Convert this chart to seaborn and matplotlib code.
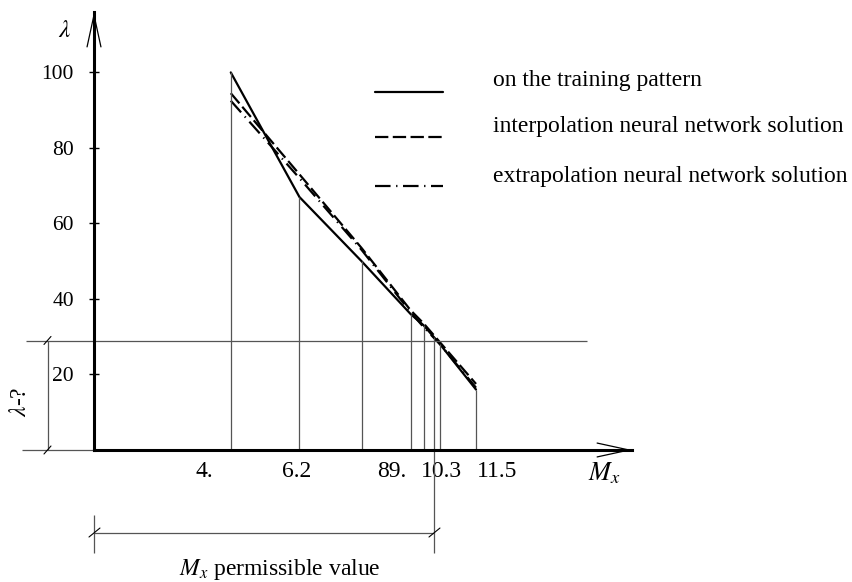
import numpy as np
import pandas as pd
import matplotlib
matplotlib.use('Agg')
import matplotlib.pyplot as plt
import seaborn as sns

mx = [4.0, 6.1, 8.0, 9.5, 9.9, 10.4, 11.5]
lam_training = [100, 67, 50, 36, 33, 28, 16]
lam_interp = [94.5, 73, 53.5, 37, 33.5, 28.5, 17.5]
lam_extrap = [92.5, 72, 53, 36.5, 32.5, 28, 16.5]
series_names = ['on the training pattern',
                'interpolation neural network solution',
                'extrapolation neural network solution']

y_ticks = [20, 40, 60, 80, 100]
x_tick_labels = ['4.', '6.2', '89.', '10.3', '11.5']
x_tick_pos = [3.18, 6.02, 8.93, 10.43, 12.14]

lam_permissible = 29
mx_permissible = 10.2

sns.set_style('white')
plt.rcParams['font.family'] = ['Liberation Serif', 'DejaVu Serif']
plt.rcParams['mathtext.fontset'] = 'stix'
plt.rcParams['text.color'] = 'black'
plt.rcParams['xtick.color'] = 'black'
plt.rcParams['ytick.color'] = 'black'

W, H = 853, 582
fig = plt.figure(figsize=(W / 100, H / 100), dpi=100)
ax = fig.add_axes([94 / W, (H - 450) / H, (632 - 94) / W, (450 - 12) / H])
ax.set_xlim(-0.183, 16.27)
ax.set_ylim(0, 116.0)


# helpers to place decorations using pixel positions of the scheme
def dx(px):
    return (px - 100) / 32.7


def dy(py):
    return (450 - py) / 3.775


FS = 17
grey = '#555555'

df = pd.DataFrame({
    'Mx': mx * 3,
    'lam': lam_training + lam_interp + lam_extrap,
    'series': [n for n in series_names for _ in mx],
})
dash_styles = {series_names[0]: '', series_names[1]: (6, 2), series_names[2]: (7, 2.5, 0.6, 2.5)}
sns.lineplot(data=df, x='Mx', y='lam', style='series', dashes=dash_styles,
             color='black', lw=1.6, legend=False, ax=ax, sort=False, estimator=None)

# drop lines from the training points
ax.vlines(mx, 0, lam_training, colors=grey, lw=0.9)
lam_at_perm = np.interp(mx_permissible, mx, lam_training)
ax.vlines(mx_permissible, dy(553), lam_at_perm, colors=grey, lw=0.9, clip_on=False)

# permissible lambda level
ax.hlines(lam_permissible, dx(26), dx(587), colors=grey, lw=0.9, clip_on=False)

# lambda-? dimension
ax.vlines(dx(48), 0, lam_permissible, colors=grey, lw=0.9, clip_on=False)
ax.hlines(0, dx(22), dx(94), colors=grey, lw=0.9, clip_on=False)
for py in [340.5, 450]:
    ax.plot([dx(44), dx(51)], [dy(py + 4), dy(py - 4)], color='black', lw=0.8, clip_on=False)
ax.text(dx(21), dy(402), r'$\lambda$-?', rotation=90, ha='center', va='center', fontsize=FS)

# M_x permissible dimension
ax.hlines(dy(533), dx(94), dx(434), colors=grey, lw=0.9, clip_on=False)
ax.vlines(dx(94), dy(553), dy(515), colors=grey, lw=0.9, clip_on=False)
for px in [94, 434]:
    ax.plot([dx(px - 5), dx(px + 6)], [dy(537), dy(528)], color='black', lw=0.8, clip_on=False)
ax.text(dx(280), dy(569), r'$M_x$ permissible value', ha='center', va='center', fontsize=FS)

# axes with arrows
for side in ['top', 'right']:
    ax.spines[side].set_visible(False)
for side in ['left', 'bottom']:
    ax.spines[side].set_linewidth(2.2)
    ax.spines[side].set_color('black')
arrow = dict(arrowstyle='->,head_length=2.3,head_width=0.5', lw=0.9, color='black',
             shrinkA=0, shrinkB=0, mutation_scale=10)
ax.annotate('', xy=(1, 0), xycoords='axes fraction', xytext=(0.9, 0), arrowprops=arrow)
ax.annotate('', xy=(0, 1), xycoords='axes fraction', xytext=(0, 0.9), arrowprops=arrow)

ax.set_yticks(y_ticks)
ax.set_yticklabels([str(v) for v in y_ticks], fontsize=15.5)
ax.tick_params(axis='y', direction='inout', length=7, width=1, pad=11, left=True)
ax.set_xticks(x_tick_pos)
ax.set_xticklabels(x_tick_labels, fontsize=FS)
ax.tick_params(axis='x', length=0, pad=8)
ax.set_xlabel('')
ax.set_ylabel('')
ax.text(dx(65), dy(31), r'$\lambda$', ha='center', va='center', fontsize=FS + 1, clip_on=False)
ax.text(dx(604), dy(473), r'$M_x$', ha='center', va='center', fontsize=FS + 2, clip_on=False)

# legend drawn by hand, as in the scheme
leg_rows = [(92, 81, ''), (137, 127, (6, 2)), (186, 177, (7, 2.5, 0.6, 2.5))]
for name, (line_py, text_py, dash) in zip(series_names, leg_rows):
    ln, = ax.plot([dx(375), dx(443)], [dy(line_py)] * 2, color='black', lw=1.6, clip_on=False)
    if dash:
        ln.set_dashes(dash)
    ax.text(dx(493), dy(text_py), name, ha='left', va='center', fontsize=FS, clip_on=False)

fig.savefig('out.png', dpi=100)
